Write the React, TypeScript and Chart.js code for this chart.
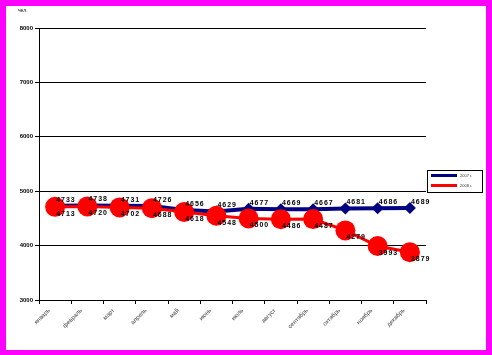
import React, { useEffect, useRef } from "react";
import { Chart, registerables } from "chart.js";

Chart.register(...registerables);

const months = ["январь", "февраль", "март", "апрель", "май", "июнь", "июль", "август", "сентябрь", "октябрь", "ноябрь", "декабрь"];
const series2007 = [4733, 4738, 4731, 4726, 4656, 4629, 4677, 4669, 4667, 4681, 4686, 4689];
const series2008 = [4713, 4720, 4702, 4688, 4618, 4548, 4500, 4486, 4487, 4279, 3993, 3879];
const seriesNames = ["2007 г.", "2008 г."];
const yTitle = "чел.";
const yMin = 3000;
const yMax = 8000;
const yStep = 1000;

const FONT = "'Liberation Sans', Arial, sans-serif";

const framePlugin = {
  id: "frame",
  beforeDraw(chart: any) {
    const ctx = chart.ctx;
    ctx.save();
    ctx.fillStyle = "#ff00ff";
    ctx.fillRect(0, 0, chart.width, chart.height);
    ctx.fillStyle = "#ffffff";
    ctx.fillRect(6, 6, 480, 344);
    ctx.restore();
  },
  afterDraw(chart: any) {
    const ctx = chart.ctx;
    ctx.save();
    ctx.fillStyle = "#000";
    ctx.font = `5px ${FONT}`;
    ctx.textBaseline = "middle";
    ctx.textAlign = "left";
    ctx.fillText(yTitle, 18, 11);
    ctx.strokeStyle = "#000";
    ctx.lineWidth = 1;
    ctx.strokeRect(427.5, 170.5, 55, 22);
    const colors = ["#000080", "#ff0000"];
    const ys = [175.5, 185.5];
    for (let i = 0; i < 2; i++) {
      ctx.fillStyle = colors[i];
      ctx.fillRect(431, ys[i] - 1.5, 26, 3);
      ctx.fillStyle = "#333";
      ctx.font = `4px ${FONT}`;
      ctx.fillText(seriesNames[i], 460, ys[i] + 0.5);
    }
    ctx.restore();
  },
};

const labelPlugin = {
  id: "valueLabels",
  afterDatasetsDraw(chart: any) {
    const ctx = chart.ctx;
    ctx.save();
    ctx.fillStyle = "#000";
    ctx.font = `bold 7px ${FONT}`;
    (ctx as any).letterSpacing = "1px";
    ctx.textAlign = "left";
    ctx.textBaseline = "middle";
    chart.data.datasets.forEach((ds: any, di: number) => {
      const meta = chart.getDatasetMeta(di);
      meta.data.forEach((pt: any, i: number) => {
        const dy = di === 0 ? -6 : 7;
        ctx.fillText(String(ds.data[i]), pt.x + 1, pt.y + dy);
      });
    });
    ctx.restore();
  },
};

export default function App() {
  const ref = useRef<HTMLCanvasElement>(null);
  useEffect(() => {
    if (!ref.current) return;
    const chart = new Chart(ref.current, {
      type: "line",
      data: {
        labels: months,
        datasets: [
          {
            label: seriesNames[0],
            data: series2007,
            borderColor: "#000080",
            backgroundColor: "#000080",
            borderWidth: 4,
            pointStyle: "rectRot",
            pointRadius: 6,
            pointBorderWidth: 0,
            pointBackgroundColor: "#000080",
            tension: 0,
            order: 2,
          },
          {
            label: seriesNames[1],
            data: series2008,
            borderColor: "#ff0000",
            backgroundColor: "#ff0000",
            borderWidth: 3,
            pointStyle: "circle",
            pointRadius: 10,
            pointBorderWidth: 0,
            pointBackgroundColor: "#ff0000",
            tension: 0,
            order: 1,
          },
        ],
      },
      options: {
        responsive: false,
        animation: false,
        events: [],
        layout: { padding: { top: 28, right: 66, left: 0, bottom: 0 } },
        plugins: {
          legend: { display: false },
          tooltip: { enabled: false },
          title: { display: false },
        },
        scales: {
          x: {
            type: "category",
            offset: true,
            border: { display: true, color: "#000", width: 1 },
            grid: {
              offset: true,
              drawOnChartArea: false,
              drawTicks: true,
              tickLength: 4,
              color: "#000",
            },
            ticks: {
              autoSkip: false,
              maxRotation: 45,
              minRotation: 45,
              color: "#444",
              font: { size: 6, family: FONT },
              padding: 3,
              labelOffset: -6,
            },
            afterFit(scale: any) {
              scale.height = 55;
            },
          },
          y: {
            min: yMin,
            max: yMax,
            border: { display: true, color: "#000", width: 1 },
            grid: {
              color: "#000",
              lineWidth: 1,
              drawTicks: true,
              tickLength: 4,
            },
            ticks: {
              stepSize: yStep,
              color: "#000",
              font: { size: 6, family: FONT, weight: "bold" },
              padding: 2,
              callback: (v: any) => String(v),
            },
            afterFit(scale: any) {
              scale.width = 39;
            },
          },
        },
      },
      plugins: [framePlugin, labelPlugin],
    });
    return () => chart.destroy();
  }, []);
  return (
    <div style={{ position: "fixed", left: 0, top: 0, width: 492, height: 355 }}>
      <canvas ref={ref} width={492} height={355} style={{ display: "block" }} />
    </div>
  );
}
